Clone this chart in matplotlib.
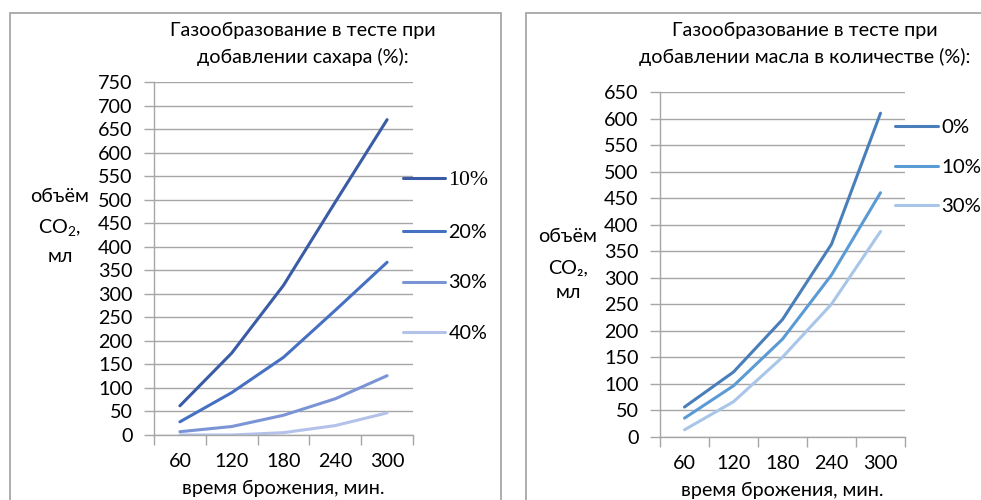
import matplotlib
matplotlib.use("Agg")
import matplotlib.pyplot as plt
from matplotlib.patches import Rectangle

plt.rcParams['font.family'] = ['Lato', 'DejaVu Sans']
plt.rcParams['mathtext.fontset'] = 'custom'
plt.rcParams['mathtext.rm'] = 'Lato'
plt.rcParams['mathtext.it'] = 'Lato:italic'

times = ["60", "120", "180", "240", "300"]

sugar_labels = ["10%", "20%", "30%", "40%"]
sugar_10 = [62, 174, 318, 495, 670]
sugar_20 = [28, 90, 165, 265, 367]
sugar_30 = [7, 18, 42, 77, 126]
sugar_40 = [0, 0, 5, 20, 47]
sugar_colors = ["#3A5BA6", "#4670C2", "#7A94D6", "#B4C2EA"]

oil_labels = ["0%", "10%", "30%"]
oil_0 = [56, 122, 221, 363, 610]
oil_10 = [35, 96, 184, 305, 460]
oil_30 = [13, 66, 150, 250, 387]
oil_colors = ["#4A7EBA", "#5B9BD5", "#A9C6E8"]

FS = 14.2
GRID = "#A6A6A6"

fig = plt.figure(figsize=(9.81, 5.0), dpi=100)

# chart borders
fig.add_artist(Rectangle((10/981, -0.1), (501-10)/981, 1.1 - 13/500,
                         transform=fig.transFigure, fill=False, ec="#A0A0A0", lw=1.2))
fig.add_artist(Rectangle((526/981, -0.1), 1.0, 1.1 - 13/500,
                         transform=fig.transFigure, fill=False, ec="#A0A0A0", lw=1.2))


def style(ax, ymax):
    ax.set_xlim(-0.5, 4.5)
    ax.set_ylim(0, ymax)
    ax.set_yticks(range(0, ymax + 1, 50))
    ax.set_xticks(range(5))
    ax.set_xticklabels(times)
    ax.set_xticks([i - 0.5 for i in range(6)], minor=True)
    ax.tick_params(axis='x', which='major', length=0, pad=13, labelsize=FS)
    ax.tick_params(axis='x', which='minor', length=7, color=GRID, width=1, direction='out')
    ax.tick_params(axis='y', length=7, color=GRID, width=1, pad=8.5, labelsize=FS)
    ax.grid(axis='y', color=GRID, lw=1)
    ax.set_axisbelow(True)
    for s in ['top', 'right']:
        ax.spines[s].set_visible(False)
    for s in ['left', 'bottom']:
        ax.spines[s].set_color(GRID)
        ax.spines[s].set_linewidth(1)
    ax.set_xlabel("время брожения, мин.", fontsize=FS, labelpad=7)


# Left chart
ax1 = fig.add_axes([154/981, 1 - 435/500, 259/981, 353/500])
for vals, lab, c in zip([sugar_10, sugar_20, sugar_30, sugar_40], sugar_labels, sugar_colors):
    ax1.plot(range(5), vals, color=c, lw=2.2, label=lab, solid_capstyle='round')
style(ax1, 750)
leg1 = ax1.legend(loc='center left', bbox_to_anchor=(403/981, 1 - 256.5/500),
                  bbox_transform=fig.transFigure, frameon=False, fontsize=FS,
                  handlelength=2.15, handletextpad=0.15, labelspacing=1.72, borderpad=0,
                  borderaxespad=0)
leg1.get_texts()[0].set_family('Liberation Serif')
leg1.get_texts()[0].set_fontsize(FS + 1.5)

fig.text(303/981, 1 - 30/500, "Газообразование в тесте при", ha='center', va='center', fontsize=FS)
fig.text(303/981, 1 - 57/500, "добавлении сахара (%):", ha='center', va='center', fontsize=FS)
fig.text(60/981, 1 - 197/500, "объём", ha='center', va='center', fontsize=FS)
fig.text(60/981, 1 - 228/500, "CO$_2$,", ha='center', va='center', fontsize=FS)
fig.text(60/981, 1 - 257/500, "мл", ha='center', va='center', fontsize=FS)

# Right chart
ax2 = fig.add_axes([660/981, 1 - 436.7/500, 245/981, 344.7/500])
for vals, lab, c in zip([oil_0, oil_10, oil_30], oil_labels, oil_colors):
    ax2.plot(range(5), vals, color=c, lw=2.2, label=lab, solid_capstyle='round')
style(ax2, 650)
leg2 = ax2.legend(loc='center left', bbox_to_anchor=(895/981, 1 - 167/500),
                  bbox_transform=fig.transFigure, frameon=False, fontsize=FS + 0.5,
                  handlelength=2.1, handletextpad=0.15, labelspacing=1.1, borderpad=0,
                  borderaxespad=0)

fig.text(805/981, 1 - 30/500, "Газообразование в тесте при", ha='center', va='center', fontsize=FS)
fig.text(805/981, 1 - 57/500, "добавлении масла в количестве (%):", ha='center', va='center', fontsize=FS)
fig.text(568/981, 1 - 237/500, "объём", ha='center', va='center', fontsize=FS)
fig.text(568/981, 1 - 268/500, "CO₂,", ha='center', va='center', fontsize=FS)
fig.text(568/981, 1 - 293/500, "мл", ha='center', va='center', fontsize=FS)

fig.savefig("out.png", dpi=100)
